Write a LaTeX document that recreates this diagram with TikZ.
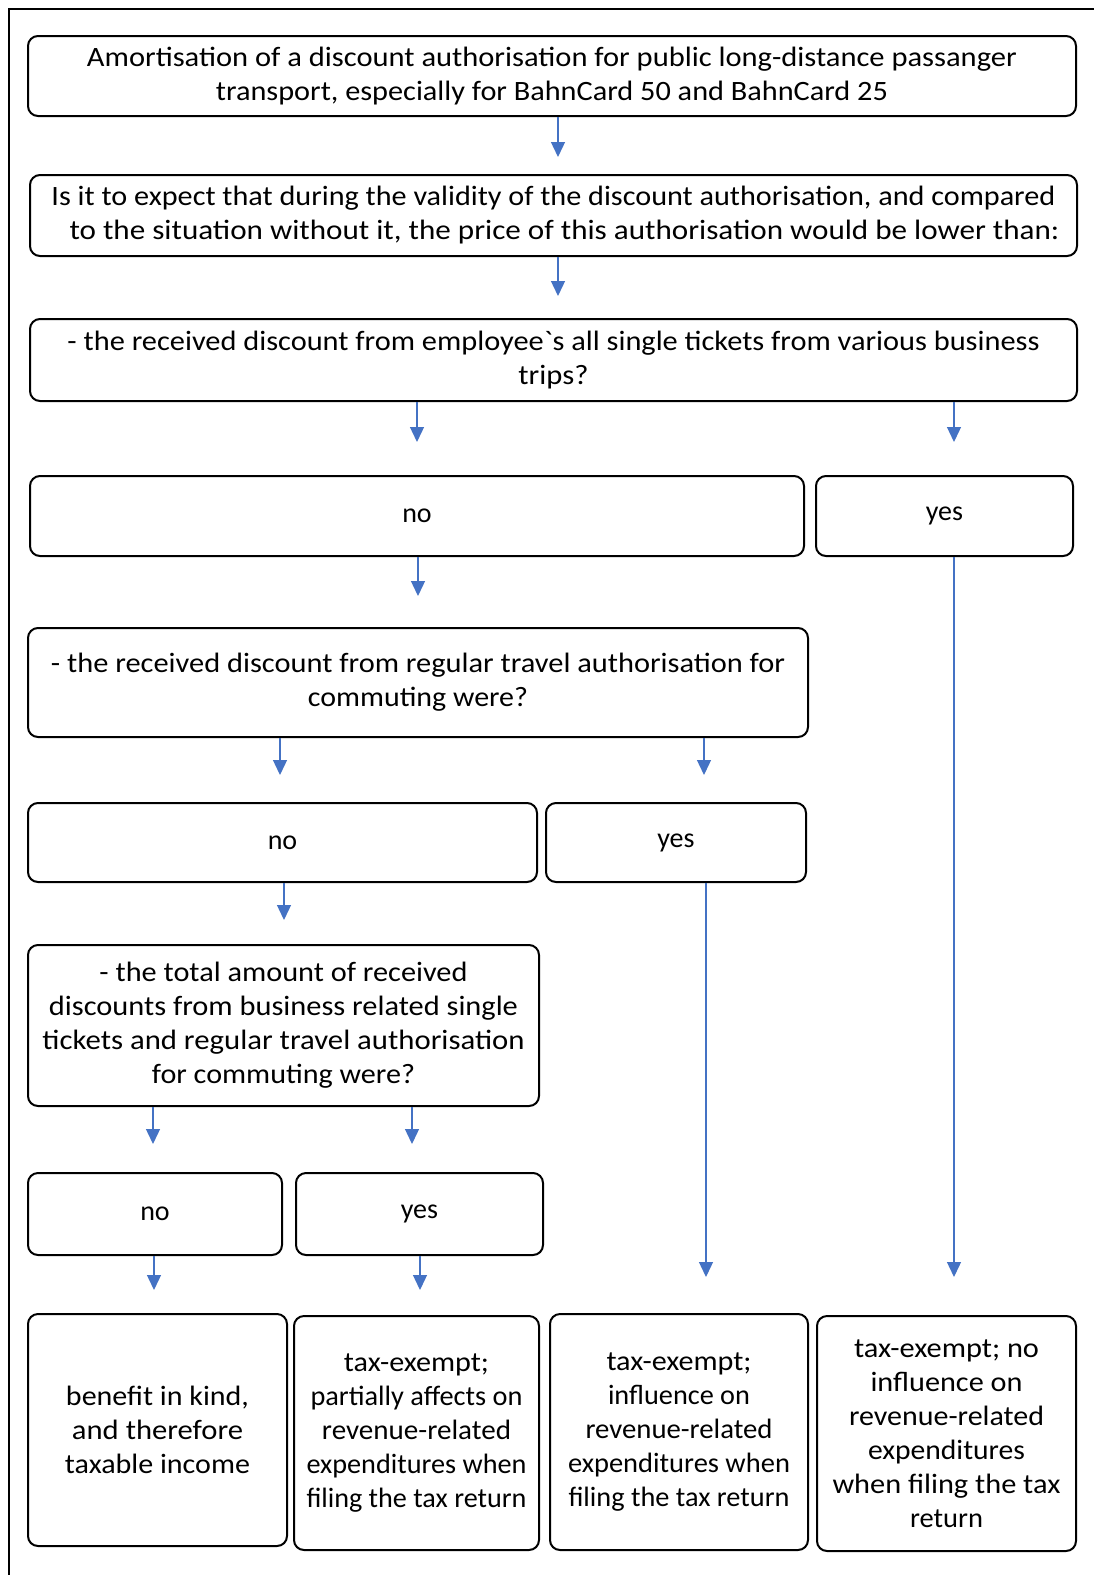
\documentclass[tikz,border=0pt]{standalone}
\usepackage{fontspec}
\setmainfont{Carlito}
\usetikzlibrary{arrows.meta}
\definecolor{arrblue}{HTML}{4472C4}
\newcommand\fl[2]{\resizebox{#1pt}{\height}{#2}}
\begin{document}
\begin{tikzpicture}[x=1pt,y=-1pt,
  box/.style={draw=black, line width=2pt, rounded corners=10pt, align=center,
    font=\fontsize{28}{34}\selectfont, inner sep=0pt},
  arr/.style={draw=arrblue, line width=1.3pt, -{Triangle[width=14pt,length=15pt]}}]
\useasboundingbox (0,0) rectangle (1094,1575);
\draw[line width=2pt] (9,1575) -- (9,9) -- (1094,9);

\node[box, minimum width=1048, minimum height=80] (b1) at (552,76)
  {\fl{930}{Amortisation of a discount authorisation for public long-distance passanger}\\
   \fl{672}{transport, especially for BahnCard 50 and BahnCard 25}};
\node[box, minimum width=1047, minimum height=81] (b2) at (553.5,215.5)
  {\fl{1004}{Is it to expect that during the validity of the discount authorisation, and compared}\\
   \hspace*{22pt}\fl{990}{to the situation without it, the price of this authorisation would be lower than:}};
\node[box, minimum width=1047, minimum height=82] (b3) at (553.5,360)
  {\fl{972}{- the received discount from employee\textasciigrave s all single tickets from various business}\\
   \fl{70}{trips?}};
\node[box, minimum width=774, minimum height=80] (no1) at (417,516) {no};
\node[box, minimum width=257, minimum height=80] (yes1) at (944.5,516) {yes};
\node[box, minimum width=780, minimum height=109] (b4) at (418,682.5)
  {\fl{734}{- the received discount from regular travel authorisation for}\\
   \fl{220}{commuting were?}};
\node[box, minimum width=509, minimum height=79] (no2) at (282.5,842.5) {no};
\node[box, minimum width=260, minimum height=79] (yes2) at (676,842.5) {yes};
\node[box, minimum width=511, minimum height=161] (b5) at (283.5,1025.5)
  {\fl{368}{- the total amount of received}\\
   \fl{469}{discounts from business related single}\\
   \fl{482}{tickets and regular travel authorisation}\\
   \fl{263}{for commuting were?}};
\node[box, minimum width=254, minimum height=82] (no3) at (155,1214) {no};
\node[box, minimum width=247, minimum height=82] (yes3) at (419.5,1214) {yes};
\node[box, minimum width=259, minimum height=232] (f1) at (157.5,1430)
  {\fl{183}{benefit in kind,}\\ \fl{171}{and therefore}\\ \fl{185}{taxable income}};
\node[box, minimum width=245, minimum height=234] (f2) at (416.5,1433)
  {\fl{145}{tax-exempt;}\\ \fl{212}{partially affects on}\\ \fl{189}{revenue-related}\\
   \fl{220}{expenditures when}\\ \fl{220}{filing the tax return}};
\node[box, minimum width=258, minimum height=236] (f3) at (679,1432)
  {\fl{145}{tax-exempt;}\\ \fl{142}{influence on}\\ \fl{187}{revenue-related}\\
   \fl{222}{expenditures when}\\ \fl{221}{filing the tax return}};
\node[box, minimum width=259, minimum height=235] (f4) at (946.5,1433.5)
  {\fl{185}{tax-exempt; no}\\ \fl{152}{influence on}\\ \fl{195}{revenue-related}\\
   \fl{157}{expenditures}\\ \fl{228}{when filing the tax}\\ \fl{73}{return}};

\draw[arr, shorten >=17pt] (b1.south -| 558,0) -- (b2.north -| 558,0);
\draw[arr, shorten >=22pt] (b2.south -| 558,0) -- (b3.north -| 558,0);
\draw[arr, shorten >=33pt] (b3.south -| 417,0) -- (no1.north -| 417,0);
\draw[arr, shorten >=33pt] (b3.south -| 954,0) -- (yes1.north -| 954,0);
\draw[arr, shorten >=31pt] (no1.south -| 418,0) -- (b4.north -| 418,0);
\draw[arr, shorten >=27pt] (b4.south -| 280,0) -- (no2.north -| 280,0);
\draw[arr, shorten >=27pt] (b4.south -| 704,0) -- (yes2.north -| 704,0);
\draw[arr, shorten >=24pt] (no2.south -| 284,0) -- (b5.north -| 284,0);
\draw[arr, shorten >=28pt] (b5.south -| 153,0) -- (no3.north -| 153,0);
\draw[arr, shorten >=28pt] (b5.south -| 412,0) -- (yes3.north -| 412,0);
\draw[arr, shorten >=23pt] (no3.south -| 154,0) -- (f1.north -| 154,0);
\draw[arr, shorten >=25pt] (yes3.south -| 420,0) -- (f2.north -| 420,0);
\draw[arr, shorten >=36pt] (yes2.south -| 706,0) -- (f3.north -| 706,0);
\draw[arr, shorten >=38pt] (yes1.south -| 954,0) -- (f4.north -| 954,0);
\end{tikzpicture}
\end{document}
